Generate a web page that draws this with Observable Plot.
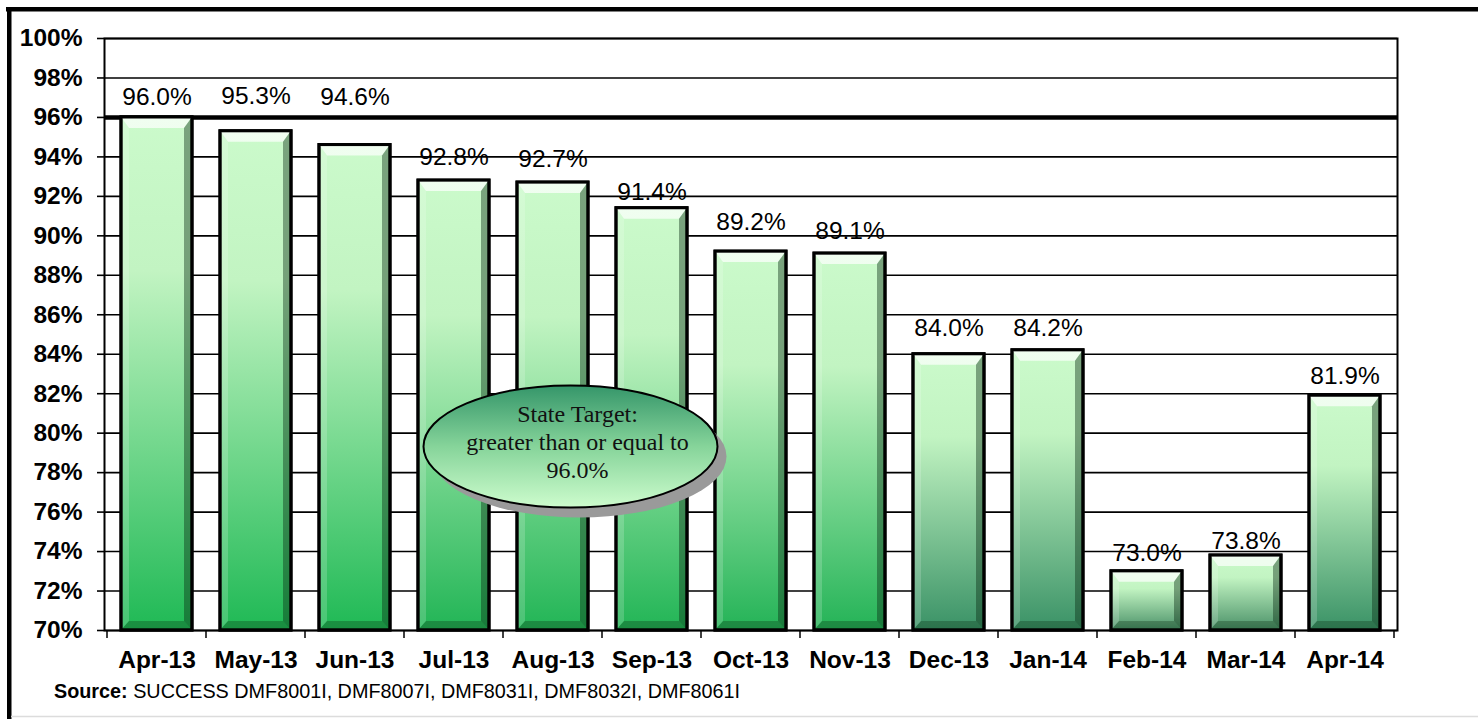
<!DOCTYPE html>
<html>
<head>
<meta charset="utf-8">
<script src="https://cdn.jsdelivr.net/npm/d3@7"></script>
<script src="https://cdn.jsdelivr.net/npm/@observablehq/plot@0.6"></script>
<style>
  html, body { margin: 0; padding: 0; background: #fff; overflow: hidden; }
  #chart { position: relative; width: 1478px; height: 719px; }
  #chart svg g[aria-label="y-axis tick label"] text,
  #chart svg g[aria-label="x-axis tick label"] text { font-weight: bold; }
</style>
</head>
<body>
<div id="chart"></div>
<script>
// ---------------- data ----------------
const months = ["Apr-13","May-13","Jun-13","Jul-13","Aug-13","Sep-13","Oct-13","Nov-13","Dec-13","Jan-14","Feb-14","Mar-14","Apr-14"];
const rates = [96.0, 95.3, 94.6, 92.8, 92.7, 91.4, 89.2, 89.1, 84.0, 84.2, 73.0, 73.8, 81.9];
const yTicks = [70, 72, 74, 76, 78, 80, 82, 84, 86, 88, 90, 92, 94, 96, 98, 100];
const targetValue = 96.0;
const targetNote = ["State Target:", "greater than or equal to", "96.0%"];
const noteAnchor = {month: "Aug-13", value: 79.3};
const sourceLabel = "Source:";
const sourceText = " SUCCESS DMF8001I, DMF8007I, DMF8031I, DMF8032I, DMF8061I";

// ---------------- styles ----------------
const SANS = "'Liberation Sans', Arial, Helvetica, sans-serif";
const SERIF = "'Liberation Serif', 'Times New Roman', serif";
const barTop = "#cbfacb";
const barBottomColor = {
  "Apr-13": "#1fb955", "May-13": "#1fb955", "Jun-13": "#1fb955", "Jul-13": "#22b556",
  "Aug-13": "#22b556", "Sep-13": "#22b556", "Oct-13": "#24b357", "Nov-13": "#24b357",
  "Dec-13": "#3a9266", "Jan-14": "#3a9266", "Feb-14": "#4a9168", "Mar-14": "#4a9168", "Apr-14": "#3a9266"
};
// label offsets (px, from bar top to label centre), as placed in the original
const labelDy = {
  "Apr-13": -20, "May-13": -35, "Jun-13": -48, "Jul-13": -23, "Aug-13": -23, "Sep-13": -16,
  "Oct-13": -29, "Nov-13": -22, "Dec-13": -26, "Jan-14": -22, "Feb-14": -18, "Mar-14": -14, "Apr-14": -20
};

const data = months.map((m, i) => ({month: m, rate: rates[i]}));

const plot = Plot.plot({
  width: 1478,
  height: 719,
  marginLeft: 104,
  marginRight: 81,
  marginTop: 38,
  marginBottom: 89,
  style: {fontFamily: SANS, color: "black", background: "white", overflow: "visible"},
  x: {domain: months, paddingInner: 0.28, paddingOuter: 0.14, label: null},
  y: {domain: [70, 100], label: null},
  marks: [
    Plot.ruleY(yTicks, {stroke: "black", strokeWidth: 1.6}),
    Plot.ruleY([targetValue], {stroke: "black", strokeWidth: 4.5}),
    Plot.frame({stroke: "black", strokeWidth: 2}),
    Plot.axisY({ticks: yTicks, tickFormat: d => d + "%", tickSize: 7, tickPadding: 15,
                fontSize: 24.5, fontWeight: "bold", strokeWidth: 1.6, label: null}),
    Plot.axisX({tickSize: 0, tickPadding: 20, fontSize: 24.5, fontWeight: "bold", label: null}),
    Plot.barY(data, {x: "month", y1: 70, y2: "rate", fill: "#9ee0a8", stroke: "black", strokeWidth: 3}),
    ...data.map(d => Plot.text([d], {x: "month", y: "rate", text: e => e.rate.toFixed(1) + "%",
                     dy: labelDy[d.month], lineAnchor: "middle", fontSize: 24.5, fill: "black"}))
  ]
});

document.getElementById("chart").appendChild(plot);

const svg = d3.select(plot);
const xs = plot.scale("x");
const ys = plot.scale("y");
const defs = svg.insert("defs", ":first-child");

// bar gradients + bevels
const barRects = svg.selectAll('g[aria-label="bar"] rect').nodes();
const bevelG = svg.append("g");
barRects.forEach((r, i) => {
  const d = data[i];
  const gid = "barGrad" + i;
  const lg = defs.append("linearGradient").attr("id", gid)
    .attr("x1", 0).attr("y1", 0).attr("x2", 0).attr("y2", 1);
  lg.append("stop").attr("offset", 0).attr("stop-color", barTop);
  lg.append("stop").attr("offset", 0.3).attr("stop-color", "#c2f4c2");
  lg.append("stop").attr("offset", 1).attr("stop-color", barBottomColor[d.month]);
  r.setAttribute("fill", `url(#${gid})`);
  const x = +r.getAttribute("x"), y = +r.getAttribute("y");
  const w = +r.getAttribute("width"), h = +r.getAttribute("height");
  const bx = 8, bt = Math.min(11, h / 4), bb = Math.min(9, h / 5);
  const poly = (pts, fill, op) => bevelG.append("polygon")
    .attr("points", pts.map(p => p.join(",")).join(" "))
    .attr("fill", fill).attr("fill-opacity", op);
  poly([[x, y], [x + w, y], [x + w - bx, y + bt], [x + bx, y + bt]], "white", 0.7);
  poly([[x, y], [x + bx, y + bt], [x + bx, y + h - bb], [x, y + h]], "white", 0.18);
  poly([[x + w, y], [x + w, y + h], [x + w - bx, y + h - bb], [x + w - bx, y + bt]], "#0a2a12", 0.42);
  poly([[x, y + h], [x + w, y + h], [x + w - bx, y + h - bb], [x + bx, y + h - bb]], "#0a2a12", 0.3);
  bevelG.append("rect").attr("x", x).attr("y", y).attr("width", w).attr("height", h)
    .attr("fill", "none").attr("stroke", "black").attr("stroke-width", 3);
});
// keep value labels above bevels
svg.selectAll('g[aria-label="text"]').each(function() { this.parentNode.appendChild(this); });

// x-axis ticks at category boundaries
const step = xs.step;
const firstStart = xs.apply(months[0]) - (step - xs.bandwidth) / 2;
const y0 = ys.apply(70);
const tickG = svg.append("g").attr("stroke", "black").attr("stroke-width", 1.5);
for (let k = 0; k <= months.length; k++) {
  const bx = firstStart + k * step;
  tickG.append("line").attr("x1", bx).attr("x2", bx).attr("y1", y0).attr("y2", y0 + 8);
}

// State target ellipse annotation
const ecx = xs.apply(noteAnchor.month) + xs.bandwidth / 2 + 18;
const ecy = ys.apply(noteAnchor.value);
const eg = defs.append("linearGradient").attr("id", "ellGrad")
  .attr("x1", 0).attr("y1", 0).attr("x2", 0).attr("y2", 1);
eg.append("stop").attr("offset", 0).attr("stop-color", "#35966a");
eg.append("stop").attr("offset", 0.5).attr("stop-color", "#86d49a");
eg.append("stop").attr("offset", 1).attr("stop-color", "#cdfccd");
const noteG = svg.append("g");
noteG.append("ellipse").attr("cx", ecx + 9).attr("cy", ecy + 10).attr("rx", 147).attr("ry", 61)
  .attr("fill", "#9a9a9a");
noteG.append("ellipse").attr("cx", ecx).attr("cy", ecy).attr("rx", 147).attr("ry", 61)
  .attr("fill", "url(#ellGrad)").attr("stroke", "black").attr("stroke-width", 2);
targetNote.forEach((line, k) => {
  noteG.append("text").attr("x", ecx + 7).attr("y", ecy - 32 + k * 28)
    .attr("text-anchor", "middle").attr("dominant-baseline", "central")
    .attr("font-family", SERIF).attr("font-size", 24).attr("fill", "#111")
    .text(line);
});

// source line
const src = svg.append("text").attr("x", 54).attr("y", 698).attr("text-anchor", "start")
  .attr("font-family", SANS).attr("font-size", 19.8).attr("fill", "black");
src.append("tspan").attr("font-weight", "bold").text(sourceLabel);
src.append("tspan").text(sourceText);

// outer frame
svg.append("rect").attr("x", 6).attr("y", 7).attr("width", 1472).attr("height", 4.5).attr("fill", "black");
svg.append("rect").attr("x", 7).attr("y", 7).attr("width", 4.5).attr("height", 712).attr("fill", "black");
svg.append("line").attr("x1", 11).attr("x2", 1478).attr("y1", 716.5).attr("y2", 716.5)
  .attr("stroke", "#dcdcdc").attr("stroke-width", 1.5);
</script>
</body>
</html>
